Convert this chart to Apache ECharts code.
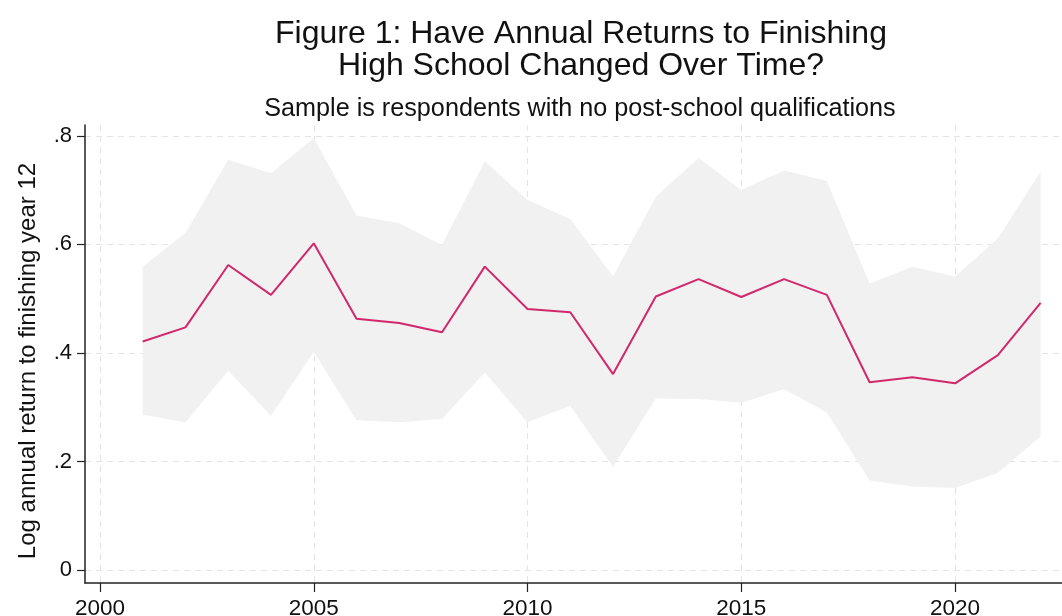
<!DOCTYPE html>
<html>
<head>
<meta charset="utf-8">
<script src="https://cdn.jsdelivr.net/npm/echarts@6/dist/echarts.min.js"></script>
<style>
html,body{margin:0;padding:0;background:#fff;}
#chart{width:1062px;height:616px;}
</style>
</head>
<body>
<div id="chart"></div>
<script>
const years = [2001,2002,2003,2004,2005,2006,2007,2008,2009,2010,2011,2012,2013,2014,2015,2016,2017,2018,2019,2020,2021,2022];
const estimate = [0.421,0.447,0.562,0.507,0.602,0.463,0.455,0.438,0.559,0.481,0.475,0.361,0.504,0.536,0.503,0.536,0.507,0.346,0.355,0.344,0.396,0.492];
const upperCI = [0.559,0.621,0.756,0.731,0.796,0.653,0.639,0.599,0.753,0.682,0.647,0.541,0.688,0.759,0.700,0.736,0.717,0.528,0.559,0.541,0.611,0.734];
const lowerCI = [0.286,0.272,0.367,0.284,0.402,0.276,0.272,0.278,0.364,0.272,0.302,0.190,0.316,0.315,0.308,0.333,0.290,0.165,0.154,0.151,0.179,0.246];
const yTicks = [0, 0.2, 0.4, 0.6, 0.8];
const yTickLabels = ['0', '.2', '.4', '.6', '.8'];
const xTicks = [2000, 2005, 2010, 2015, 2020];

const font = '"Liberation Sans", Arial, sans-serif';
const chart = echarts.init(document.getElementById('chart'), null, {renderer: 'canvas'});

const bandData = years.map((y, i) => [y, lowerCI[i], upperCI[i]]);
const lineData = years.map((y, i) => [y, estimate[i]]);

chart.setOption({
  animation: false,
  backgroundColor: '#ffffff',
  textStyle: {fontFamily: font},
  title: [
    {
      text: 'Figure 1: Have Annual Returns to Finishing\nHigh School Changed Over Time?',
      left: 576, top: 13, textAlign: 'center',
      textStyle: {fontFamily: font, fontSize: 32, fontWeight: 'normal', color: '#111', lineHeight: 32}
    },
    {
      text: 'Sample is respondents with no post-school qualifications',
      left: 575, top: 91, textAlign: 'center',
      textStyle: {fontFamily: font, fontSize: 25.2, fontWeight: 'normal', color: '#111', lineHeight: 26}
    }
  ],
  grid: {left: 85, right: 0, top: 125, bottom: 33, containLabel: false, outerBoundsMode: 'none'},
  xAxis: {
    type: 'value',
    min: 1999.65, max: 2022.5,
    axisLine: {show: true, onZero: false, lineStyle: {color: '#222', width: 1.5}},
    axisTick: {show: true, length: 9, customValues: xTicks, lineStyle: {color: '#222', width: 1.2}},
    axisLabel: {customValues: xTicks, fontFamily: font, fontSize: 22.5, color: '#111', margin: 14, formatter: v => String(v)},
    splitLine: {show: true, lineStyle: {color: '#e4e4e4', type: [6, 5], width: 1}}
  },
  yAxis: {
    type: 'value',
    min: -0.024, max: 0.82,
    name: 'Log annual return to finishing year 12',
    nameLocation: 'middle',
    nameGap: 45,
    nameRotate: 90,
    nameTextStyle: {fontFamily: font, fontSize: 24, color: '#111', padding: [0, 14, 0, 0]},
    axisLine: {show: true, onZero: false, lineStyle: {color: '#222', width: 1.5}},
    axisTick: {show: true, length: 8, customValues: yTicks, lineStyle: {color: '#222', width: 1.2}},
    axisLabel: {customValues: yTicks, fontFamily: font, fontSize: 22, color: '#111', margin: 13,
      formatter: v => { const i = yTicks.findIndex(t => Math.abs(t - v) < 1e-6); return i >= 0 ? yTickLabels[i] : ''; }},
    splitLine: {show: true, lineStyle: {color: '#e4e4e4', type: [6, 5], width: 1}}
  },
  series: [
    {
      type: 'custom',
      data: bandData,
      encode: {x: 0, y: [1, 2]},
      silent: true,
      z: 1,
      renderItem: function (params, api) {
        if (params.dataIndex !== 0) return null;
        const pts = [];
        for (let i = 0; i < years.length; i++) pts.push(api.coord([years[i], upperCI[i]]));
        for (let i = years.length - 1; i >= 0; i--) pts.push(api.coord([years[i], lowerCI[i]]));
        return {type: 'polygon', shape: {points: pts}, style: {fill: '#f1f1f1', stroke: null}};
      }
    },
    {
      type: 'line', data: lineData, symbol: 'none',
      lineStyle: {color: '#d0286a', width: 2}, z: 3
    }
  ]
});
</script>
</body>
</html>
